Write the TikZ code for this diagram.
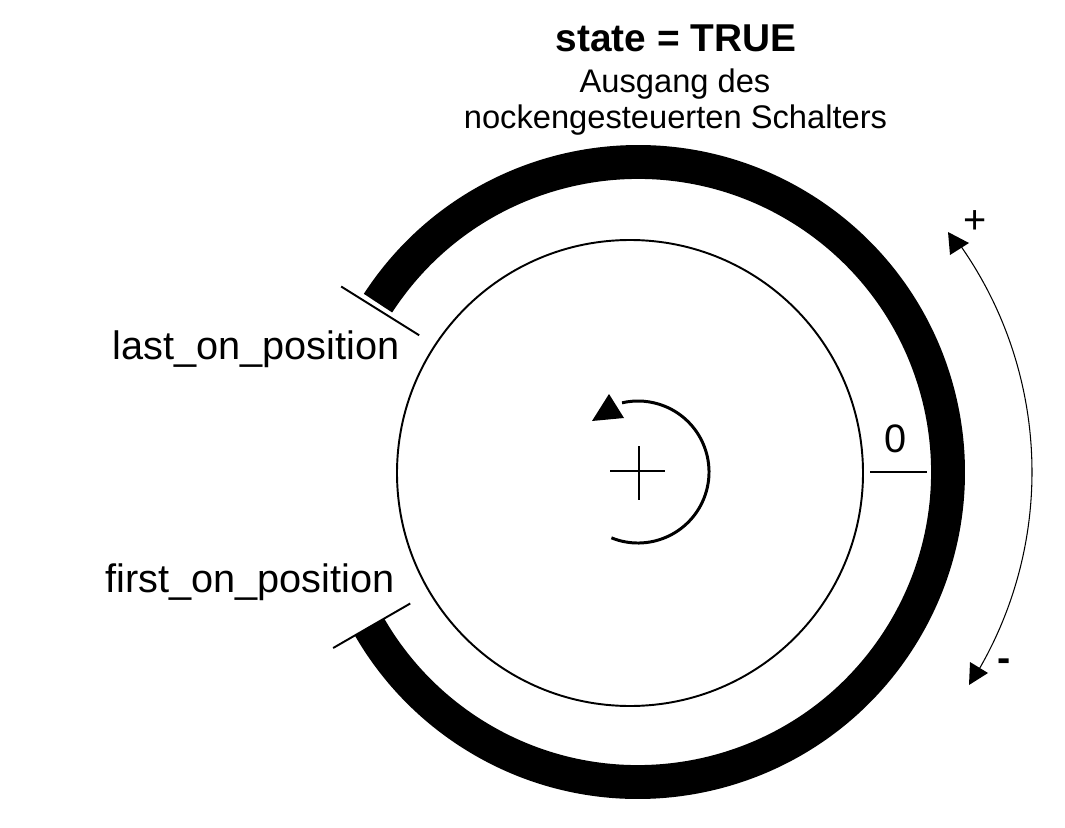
\documentclass[tikz,border=0pt]{standalone}
\usepackage{fontspec}
\setmainfont{Liberation Sans}
\usetikzlibrary{calc}
\begin{document}
\begin{tikzpicture}[x=0.02cm,y=0.02cm,
  lbl/.style={inner sep=0pt,font=\fontsize{22.6}{26}\selectfont},
  sub/.style={inner sep=0pt,font=\fontsize{18.6}{22}\selectfont},
  thin/.style={line width=1.1pt},
  tick/.style={line width=1.1pt}]
\useasboundingbox (0,-828) rectangle (1065,0);
\coordinate (c) at (638,-472);
\coordinate (ic) at (630,-473);
% inner circle
\draw[thin] (ic) circle[radius=233];
% thick cam arc
\draw[line width=19.3pt,line cap=butt] ($(c)+(147:310)$) arc[start angle=147,end angle=-150,radius=310];
% ticks
\draw[tick] ($(c)+(148:258)$) coordinate (l1) -- ($(c)+(148:350)$) coordinate (l2);
\draw[tick] ($(c)+(210:263)$) coordinate (f1) -- ($(c)+(210:352)$) coordinate (f2);
\draw[tick] ($(c)+(0:232)$) coordinate (z1) -- ($(c)+(0:289)$) coordinate (z2);
% crosshair
\draw[line width=1.1pt] (610,-471) -- (665,-471);
\draw[line width=1.1pt] (639,-446) -- (639,-500);
% rotation arrow
\draw[line width=1.7pt] ($(c)+(-112:71)$) arc[start angle=-112,end angle=103,radius=71];
\fill (592,-421) -- (609,-394) -- (624,-418) -- cycle;
% +/- arc
\draw[line width=0.6pt] ($(c)+(-32:394)$) arc[start angle=-32,end angle=36,radius=394];
\fill (948,-232) -- (950,-255) -- (969,-243) -- cycle;
\fill (970,-662) -- (969,-685) -- (988,-673) -- cycle;
% texts
\node[lbl,anchor=base,font=\fontsize{22.1}{26}\selectfont\bfseries] (title) at (676,-52) {state = TRUE};
\node[sub,anchor=base] (s1) at (675,-92) {Ausgang des};
\node[sub,anchor=base] (s2) at (675.5,-129) {nockengesteuerten Schalters};
\node[lbl,anchor=base west] (last) at (112,-359) {last\_on\_position};
\node[lbl,anchor=base west] (first) at (105,-592) {first\_on\_position};
\node[lbl,anchor=base] (zero) at (896,-452) {0};
\node[lbl] (plus) at (975,-222) {+};
\node[lbl,font=\fontsize{22.6}{26}\selectfont\bfseries] (minus) at (1004,-665) {-};
\end{tikzpicture}
\end{document}
